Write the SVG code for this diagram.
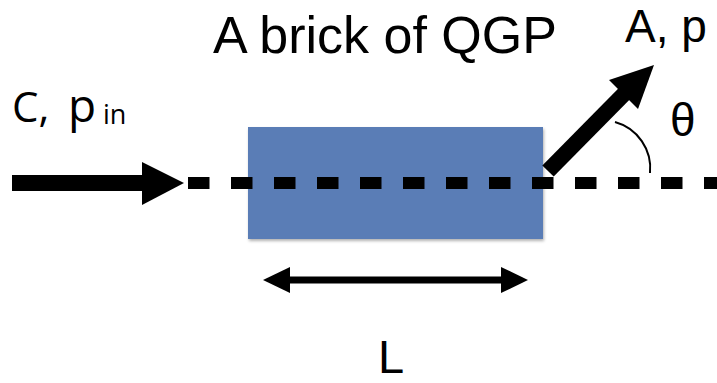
<svg xmlns="http://www.w3.org/2000/svg" width="717" height="383" viewBox="0 0 717 383">
  <defs>
    <style>
      .lbl { font-family: "Liberation Sans", Arial, sans-serif; fill: #000; }
      .lbl2 { font-family: "Open Sans", "Noto Sans", sans-serif; fill: #000; }
      .thick { stroke: #000; fill: none; }
    </style>
    <filter id="shadow" x="-5%" y="-10%" width="115%" height="130%">
      <feDropShadow dx="1" dy="2" stdDeviation="1.5" flood-color="#000" flood-opacity="0.3"/>
    </filter>
  </defs>
  <rect width="717" height="383" fill="#fff"/>

  <g id="brick">
    <rect x="248" y="127" width="295" height="112" fill="#5a7db6" filter="url(#shadow)"/>
  </g>

  <g id="title">
    <text class="lbl" x="213" y="53" font-size="52">A brick of QGP</text>
  </g>

  <g id="incoming-label">
    <text class="lbl2" y="122" font-size="42"><tspan x="12">C,</tspan><tspan x="68" font-size="46">p</tspan><tspan x="103" y="124" font-size="27">in</tspan></text>
  </g>

  <g id="outgoing-label">
    <text class="lbl" x="625" y="42" font-size="46">A, p</text>
  </g>

  <g id="theta-label">
    <text class="lbl" x="670" y="136" font-size="46">θ</text>
  </g>

  <g id="length-label">
    <text class="lbl" x="378" y="373" font-size="47">L</text>
  </g>

  <g id="connectors">
    <!-- incoming arrow -->
    <line class="thick" x1="12" y1="183" x2="144" y2="183" stroke-width="16"/>
    <polygon points="142,162 184,183 142,205" fill="#000"/>
    <!-- dashed axis -->
    <line class="thick" x1="188" y1="183" x2="717" y2="183" stroke-width="12" stroke-dasharray="21.5 21.5"/>
    <!-- outgoing arrow -->
    <line class="thick" x1="548" y1="171" x2="626" y2="92" stroke-width="16"/>
    <polygon points="654,65 609,80 638,109" fill="#000"/>
    <!-- angle arc -->
    <path class="thick" d="M615,122 A48,48 0 0 1 650,173" stroke-width="2"/>
    <!-- length double arrow -->
    <line class="thick" x1="285" y1="280" x2="506" y2="280" stroke-width="7"/>
    <polygon points="263,280 290,267 290,293" fill="#000"/>
    <polygon points="528,280 501,267 501,293" fill="#000"/>
  </g>
</svg>
